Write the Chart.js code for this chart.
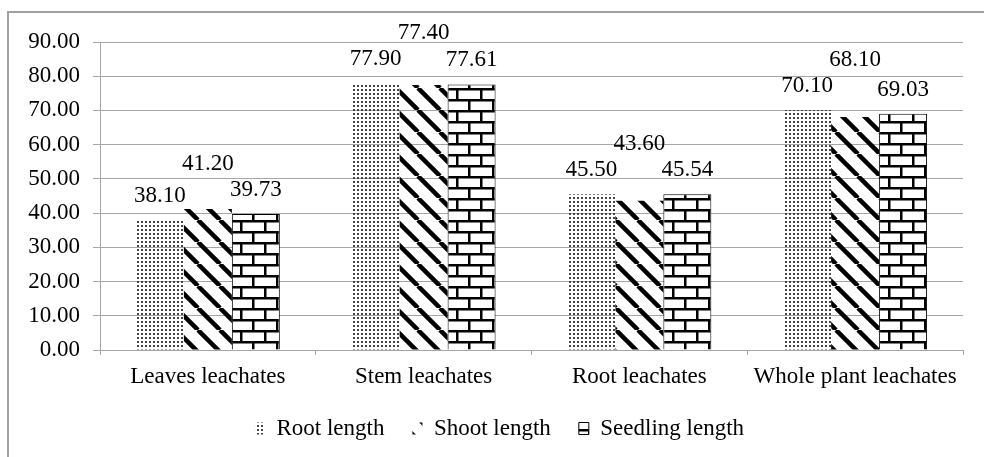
<!DOCTYPE html>
<html>
<head>
<meta charset="utf-8">
<script src="https://cdn.jsdelivr.net/npm/chart.js@4"></script>
<style>
  html, body { margin:0; padding:0; background:#fff; }
  #wrap { position:relative; width:984px; height:457px; }
</style>
</head>
<body>
<div id="wrap"><canvas id="chart" width="984" height="457"></canvas></div>
<script>
// --- data ---
const categories = ["Leaves leachates", "Stem leachates", "Root leachates", "Whole plant leachates"];
const rootLength = [38.10, 77.90, 45.50, 70.10];
const shootLength = [41.20, 77.40, 43.60, 68.10];
const seedlingLength = [39.73, 77.61, 45.54, 69.03];
const seriesNames = ["Root length", "Shoot length", "Seedling length"];
const yMin = 0, yMax = 90, yStep = 10;

const FONT = "Liberation Serif, Times New Roman, serif";
const FSIZE = 23;
const GRID = "#a6a6a6";

// --- fill patterns ---
function tile(w, h, draw){
  const c = document.createElement("canvas");
  c.width = w; c.height = h;
  const g = c.getContext("2d");
  draw(g);
  return g.createPattern(c, "repeat");
}

const dots = tile(4, 4, g => {
  g.fillStyle = "#444";
  g.fillRect(1, 1, 2, 2);
});

const stripes = tile(22, 22, g => {
  g.strokeStyle = "#000";
  g.lineWidth = 4.5;
  for (let k = -1; k <= 1; k++){
    g.beginPath();
    g.moveTo(k*22, 0);
    g.lineTo(k*22 + 22, 22);
    g.stroke();
  }
});

const bricks = tile(24, 22, g => {
  g.fillStyle = "#fff";
  g.fillRect(0, 0, 24, 22);
  g.fillStyle = "#000";
  g.fillRect(0, 0, 24, 2.5);
  g.fillRect(0, 11, 24, 2.5);
  g.fillRect(0, 0, 2.5, 11);
  g.fillRect(12, 11, 2.5, 11);
});

// --- plugins ---
const frame = {
  id: "frame",
  beforeDraw(chart){
    const ctx = chart.ctx;
    ctx.save();
    ctx.fillStyle = "#fff";
    ctx.fillRect(0, 0, chart.width, chart.height);
    ctx.strokeStyle = "#a0a0a0";
    ctx.lineWidth = 2;
    ctx.beginPath();
    ctx.moveTo(8, chart.height + 2);
    ctx.lineTo(8, 12);
    ctx.lineTo(chart.width + 2, 12);
    ctx.stroke();
    ctx.restore();
  }
};

// legend sits a bit right of centre in the original
const legendShift = {
  id: "legendShift",
  afterLayout(chart){
    const lg = chart.legend;
    if (!lg) return;
    lg.left += 18;
    lg.right += 18;
  }
};

// value labels, middle one lifted above its neighbours like the original
const valueLabels = {
  id: "valueLabels",
  afterDatasetsDraw(chart){
    const ctx = chart.ctx;
    const m = [0,1,2].map(i => chart.getDatasetMeta(i).data);
    ctx.save();
    ctx.font = FSIZE + "px " + FONT;
    ctx.fillStyle = "#000";
    ctx.textAlign = "center";
    ctx.textBaseline = "middle";
    categories.forEach((c, i) => {
      const y0 = m[0][i].y - 24;
      const y2 = m[2][i].y - 24;
      const y1 = Math.min(y0, y2) - 26;
      const vals = [rootLength[i], shootLength[i], seedlingLength[i]];
      [y0, y1, y2].forEach((y, d) => {
        ctx.fillText(vals[d].toFixed(2), m[d][i].x, y);
      });
    });
    ctx.restore();
  }
};

new Chart(document.getElementById("chart"), {
  type: "bar",
  data: {
    labels: categories,
    datasets: [
      { label: seriesNames[0], data: rootLength, backgroundColor: dots, borderWidth: 0 },
      { label: seriesNames[1], data: shootLength, backgroundColor: stripes, borderWidth: 0 },
      { label: seriesNames[2], data: seedlingLength, backgroundColor: bricks, borderColor: "#000", borderWidth: 1 }
    ]
  },
  options: {
    responsive: false,
    animation: false,
    devicePixelRatio: 1,
    layout: { padding: { top: 42, right: 21, left: 0, bottom: 7 } },
    datasets: { bar: { barPercentage: 1, categoryPercentage: 0.667 } },
    plugins: {
      legend: {
        position: "bottom",
        labels: { font: { family: FONT, size: FSIZE }, color: "#000", boxWidth: 10, boxHeight: 12, padding: 28 }
      },
      tooltip: { enabled: false }
    },
    scales: {
      x: {
        grid: { offset: true, drawOnChartArea: false, color: GRID, tickLength: 5 },
        border: { color: GRID },
        ticks: { font: { family: FONT, size: FSIZE }, color: "#000", padding: 8, maxRotation: 0 },
        afterFit(s){ s.height = 39; }
      },
      y: {
        min: yMin, max: yMax,
        grid: { color: GRID, tickLength: 7 },
        border: { color: GRID },
        ticks: { stepSize: yStep, font: { family: FONT, size: FSIZE }, color: "#000", padding: 13,
                 callback: v => v.toFixed(2) },
        afterFit(s){ s.width = 100; }
      }
    }
  },
  plugins: [frame, legendShift, valueLabels]
});
</script>
</body>
</html>
